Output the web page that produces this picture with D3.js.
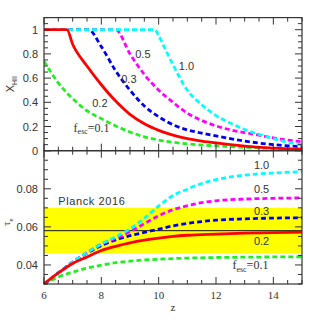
<!DOCTYPE html>
<html>
<head>
<meta charset="utf-8">
<script src="https://cdn.jsdelivr.net/npm/d3@7"></script>
<style>
  html, body { margin: 0; padding: 0; background: #fff; }
  svg { display: block; }
</style>
</head>
<body>
<div id="chart"></div>
<script>
// 两联图：上 = 电离分数 X_HII(z)，下 = 汤姆孙光深 τ_e(z)，按 f_esc 分五条线
const FESC = ["0.1", "0.2", "0.3", "0.5", "1.0"];
const COLORS = { "0.1": "#22ee22", "0.2": "#ff0000", "0.3": "#0000ee", "0.5": "#ff00ff", "1.0": "#00ffff" };

// 上图：X_HII 读数 [z, x]
const XHII = {
  "0.1": [[6,0.74],[6.5,0.56],[7,0.43],[7.5,0.33],[8,0.265],[8.5,0.205],[9,0.155],[9.5,0.115],[10,0.088],[10.5,0.07],[11,0.056],[12,0.04],[13,0.028],[14,0.019],[15,0.013]],
  "0.2": [[6,1],[6.8,1],[7,0.88],[7.5,0.7],[8,0.545],[8.5,0.41],[9,0.3],[9.5,0.222],[10,0.168],[10.5,0.128],[11,0.1],[11.5,0.08],[12,0.064],[12.5,0.05],[13,0.038],[14,0.022],[15,0.012]],
  "0.3": [[6,1],[7.55,1],[8,0.86],[8.5,0.66],[9,0.5],[9.5,0.37],[10,0.28],[10.5,0.215],[11,0.172],[11.5,0.145],[12,0.122],[12.5,0.1],[13,0.08],[13.5,0.063],[14,0.05],[15,0.033]],
  "0.5": [[6,1],[8.5,1],[9,0.8],[9.5,0.63],[10,0.5],[10.5,0.4],[11,0.31],[11.5,0.25],[12,0.205],[12.5,0.172],[13,0.15],[13.5,0.128],[14,0.105],[15,0.074]],
  "1.0": [[6,1],[9.87,1],[10,0.95],[10.25,0.83],[10.5,0.71],[11,0.5],[11.5,0.38],[12,0.29],[12.5,0.228],[13,0.175],[13.5,0.135],[14,0.1],[14.5,0.07],[15,0.05]],
};

// 下图：τ_e 读数 [z, τ]
const TAU = {
  "0.1": [[6,0.03],[6.5,0.0337],[7,0.0362],[7.5,0.0383],[8,0.0399],[8.5,0.0412],[9,0.042],[9.5,0.0426],[10,0.043],[11,0.0436],[12,0.0439],[13,0.0441],[14,0.0442],[15,0.0443]],
  "0.2": [[6,0.03],[6.5,0.0358],[7,0.0408],[7.5,0.0442],[8,0.0476],[8.5,0.0498],[9,0.0516],[9.5,0.053],[10,0.0541],[10.5,0.055],[11,0.0556],[12,0.0562],[13,0.0567],[14,0.057],[15,0.0572]],
  "0.3": [[6,0.03],[6.5,0.0358],[7,0.0415],[7.5,0.0462],[8,0.0502],[8.5,0.0532],[9,0.0554],[9.5,0.0571],[10,0.0588],[10.5,0.0605],[11,0.0618],[11.5,0.0628],[12,0.0635],[13,0.0642],[14,0.0646],[15,0.0648]],
  "0.5": [[6,0.03],[6.5,0.0358],[7,0.0415],[7.5,0.0465],[8,0.051],[8.5,0.054],[9,0.0575],[9.5,0.0617],[10,0.0658],[10.5,0.069],[11,0.0711],[11.5,0.0727],[12,0.0737],[13,0.0746],[14,0.075],[15,0.0752]],
  "1.0": [[6,0.03],[6.5,0.0358],[7,0.0415],[7.5,0.0465],[8,0.051],[8.5,0.0548],[9,0.059],[9.5,0.0645],[10,0.071],[10.5,0.0765],[11,0.0798],[11.5,0.0828],[12,0.0848],[12.5,0.0862],[13,0.0872],[14,0.0883],[15,0.0889]],
};

// 曲线标注位置 [z, 值]（文字基线）
const LAB_TOP = { "0.1": [7.66, 0.155], "0.2": [7.95, 0.36], "0.3": [8.96, 0.562], "0.5": [9.45, 0.766], "1.0": [10.97, 0.667] };
const LAB_BOT = { "0.1": [13.2, 0.0378], "0.2": [13.59, 0.0507], "0.3": [13.59, 0.0662], "0.5": [13.59, 0.0777], "1.0": [13.59, 0.0905] };

const PLANCK = { mid: 0.058, lo: 0.046, hi: 0.070, label: "Planck 2016" };
const X_TICKS = [6, 8, 10, 12, 14];
const TOP_TICKS = [0, 0.2, 0.4, 0.6, 0.8, 1];
const BOT_TICKS = [0.04, 0.06, 0.08];

const W = 319, H = 319, ML = 44, MR = 17, T1 = 17.6, MID = 150.7, BOT = 284;
const SANS = "'Liberation Sans', Arial, sans-serif";
const SERIF = "'Liberation Serif', 'Times New Roman', serif";
const INK = "#333";

const svg = d3.select("#chart").append("svg").attr("width", W).attr("height", H);

const x = d3.scaleLinear().domain([6, 15]).range([ML, W - MR]);
const yTop = d3.scaleLinear().domain([0, 1.1]).range([MID, T1]);
const yBot = d3.scaleLinear().domain([0.03, 0.1]).range([BOT, MID]);

// 普朗克带（画在曲线下面）
svg.append("rect")
  .attr("x", x(6)).attr("width", x(15) - x(6))
  .attr("y", yBot(PLANCK.hi)).attr("height", yBot(PLANCK.lo) - yBot(PLANCK.hi))
  .attr("fill", "#ffff00");
svg.append("line")
  .attr("x1", x(6)).attr("x2", x(15)).attr("y1", yBot(PLANCK.mid)).attr("y2", yBot(PLANCK.mid))
  .attr("stroke", "#111").attr("stroke-width", 1);
svg.append("text").attr("x", x(6.5)).attr("y", yBot(0.0715))
  .attr("style", `font:11px ${SANS};fill:${INK};letter-spacing:0.6px`).text(PLANCK.label);

// 曲线：绿、蓝、品红、青、红（红在最上）
const ORDER = ["0.1", "0.3", "0.5", "1.0", "0.2"];
svg.append("clipPath").attr("id", "ct").append("rect")
  .attr("x", ML).attr("y", T1).attr("width", x(15) - ML).attr("height", MID - T1);
const gTop = svg.append("g").attr("clip-path", "url(#ct)");
const gBot = svg.append("g");

ORDER.forEach(k => {
  const dash = k === "0.2" ? null : "5,3";
  const lt = d3.line().x(d => x(d[0])).y(d => yTop(d[1])).curve(d3.curveMonotoneX);
  gTop.append("path").attr("d", lt(XHII[k])).attr("fill", "none")
    .attr("stroke", COLORS[k]).attr("stroke-width", 2.8).attr("stroke-dasharray", dash);
  const lb = d3.line().x(d => x(d[0])).y(d => yBot(d[1])).curve(d3.curveMonotoneX);
  gBot.append("path").attr("d", lb(TAU[k])).attr("fill", "none")
    .attr("stroke", COLORS[k]).attr("stroke-width", 2.8).attr("stroke-dasharray", dash);
});

// 曲线标注
const label = (pos, y, k) => {
  const t = svg.append("text").attr("x", x(pos[0])).attr("y", y(pos[1]))
    .attr("text-anchor", "middle")
    .attr("style", `font:11px ${SANS};fill:${INK}`);
  if (k === "0.1") {
    t.attr("style", `font:12px ${SERIF};fill:${INK}`);
    t.append("tspan").text("f");
    t.append("tspan").attr("dy", 2.5).attr("font-size", 8).text("esc");
    t.append("tspan").attr("dy", -2.5).text("=0.1");
  } else {
    t.text(k);
  }
};
FESC.forEach(k => { label(LAB_TOP[k], yTop, k); label(LAB_BOT[k], yBot, k); });

// 框与刻度（刻度朝内，四边都画）
const frame = (y0, y1) => svg.append("rect").attr("x", ML).attr("y", y0)
  .attr("width", x(15) - ML).attr("height", y1 - y0)
  .attr("fill", "none").attr("stroke", INK).attr("stroke-width", 1.2);
frame(T1, MID);
frame(MID, BOT);

const tick = (x1, y1, x2, y2) => svg.append("line")
  .attr("x1", x1).attr("y1", y1).attr("x2", x2).attr("y2", y2)
  .attr("stroke", INK).attr("stroke-width", 1);

d3.range(6, 15.01, 0.5).forEach(z => {
  const major = Math.abs(z - Math.round(z / 2) * 2) < 1e-6;
  const L = major ? 7 : 4;
  [T1, MID, BOT].forEach(yy => {
    if (yy !== T1) tick(x(z), yy, x(z), yy - L);
    if (yy !== BOT) tick(x(z), yy, x(z), yy + L);
  });
});
d3.range(0, 1.101, 0.05).forEach(v => {
  const major = Math.abs(v * 5 - Math.round(v * 5)) < 1e-6;
  const L = major ? 7 : 4;
  tick(x(6), yTop(v), x(6) + L, yTop(v));
  tick(x(15), yTop(v), x(15) - L, yTop(v));
});
d3.range(0.03, 0.1001, 0.005).forEach(v => {
  const major = Math.abs(v * 50 - Math.round(v * 50)) < 1e-6;
  const L = major ? 7 : 4;
  tick(x(6), yBot(v), x(6) + L, yBot(v));
  tick(x(15), yBot(v), x(15) - L, yBot(v));
});

// 刻度标签
TOP_TICKS.forEach(v => svg.append("text").attr("x", ML - 6).attr("y", yTop(v) + 4)
  .attr("text-anchor", "end").attr("style", `font:11px ${SANS};fill:${INK}`)
  .text(d3.format("~g")(v)));
BOT_TICKS.forEach(v => svg.append("text").attr("x", ML - 6).attr("y", yBot(v) + 4)
  .attr("text-anchor", "end").attr("style", `font:11px ${SANS};fill:${INK}`)
  .text(v.toFixed(2)));
X_TICKS.forEach(z => svg.append("text").attr("x", x(z)).attr("y", BOT + 15)
  .attr("text-anchor", "middle").attr("style", `font:11px ${SERIF};fill:${INK}`)
  .text(z));
svg.append("text").attr("x", x(10.5)).attr("y", BOT + 27).attr("text-anchor", "middle")
  .attr("style", `font:11px ${SERIF};fill:${INK}`).text("z");

// 纵轴标题
const yt1 = svg.append("text").attr("transform", `translate(14,${yTop(0.55)}) rotate(-90)`)
  .attr("text-anchor", "middle").attr("style", `font:11px ${SANS};fill:${INK}`);
yt1.append("tspan").text("X");
yt1.append("tspan").attr("dy", 2.5).attr("font-size", 7).text("HII");
const yt2 = svg.append("text").attr("transform", `translate(10,${yBot(0.0625)}) rotate(-90)`)
  .attr("text-anchor", "middle").attr("style", `font:11px ${SERIF};fill:${INK}`);
yt2.append("tspan").text("τ");
yt2.append("tspan").attr("dy", 2.5).attr("font-size", 7).text("e");
</script>
</body>
</html>
